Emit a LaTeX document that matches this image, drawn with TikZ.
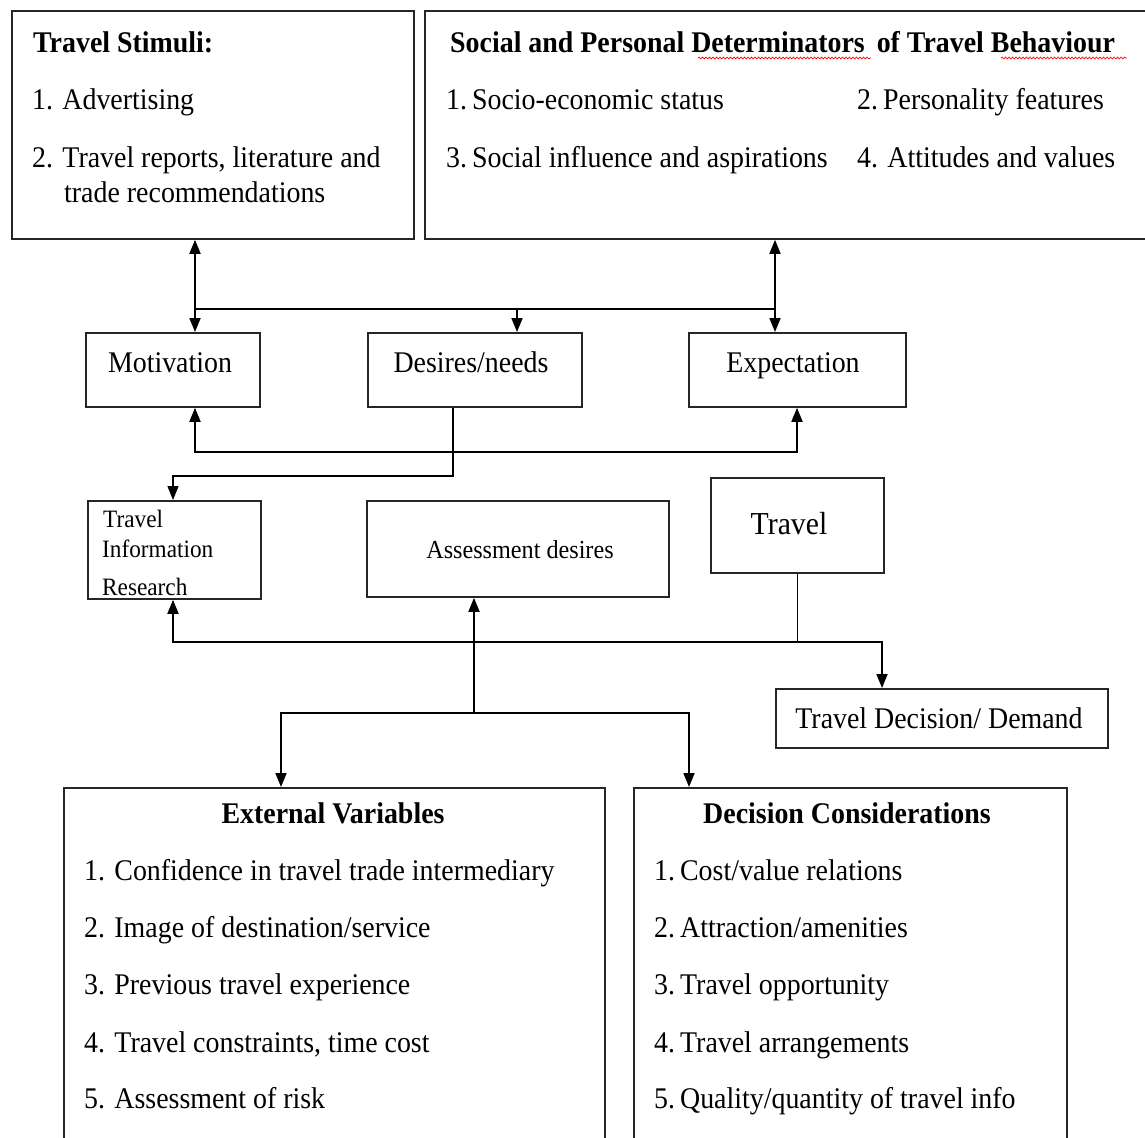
\documentclass[tikz,border=0pt]{standalone}
\usepackage{fontspec}
\setmainfont{Liberation Serif}[FakeStretch=0.93]
\usetikzlibrary{arrows.meta,decorations.pathmorphing}
\begin{document}
\begin{tikzpicture}[x=1pt,y=-1pt,
  boxnode/.style={draw=black!85, line width=1.8pt, rectangle, inner sep=0pt, anchor=north west},
  txt/.style={anchor=base west, inner sep=0pt, font=\fontsize{30}{36}\selectfont},
  ctxt/.style={anchor=base, inner sep=0pt, font=\fontsize{30}{36}\selectfont},
  btxt/.style={anchor=base, inner sep=0pt, font=\fontsize{30}{36}\selectfont\bfseries},
  stxt/.style={anchor=base west, inner sep=0pt, font=\fontsize{25}{30}\selectfont},
  conn/.style={line width=1.8pt, black},
  arr/.style={conn, -{Triangle[length=14pt,width=11pt]}},
  darr/.style={conn, {Triangle[length=14pt,width=11pt]}-{Triangle[length=14pt,width=11pt]}},
  wavy/.style={red, line width=0.7pt, decorate, decoration={snake, amplitude=0.9pt, segment length=3.5pt}}
]
\useasboundingbox (0,0) rectangle (1145,1137);
\clip (0,0) rectangle (1145,1137);

% boxes
\node[boxnode, minimum width=402pt, minimum height=228pt] (ts) at (11,10) {};
\node[boxnode, minimum width=740pt, minimum height=228pt] (sp) at (424,10) {};
\node[boxnode, minimum width=174pt, minimum height=74pt] (mot) at (85,332) {};
\node[boxnode, minimum width=214pt, minimum height=74pt] (des) at (367,332) {};
\node[boxnode, minimum width=217pt, minimum height=74pt] (exp) at (688,332) {};
\node[boxnode, minimum width=173pt, minimum height=98pt] (tir) at (87,500) {};
\node[boxnode, minimum width=302pt, minimum height=96pt] (ass) at (366,500) {};
\node[boxnode, minimum width=173pt, minimum height=95pt] (trv) at (710,477) {};
\node[boxnode, minimum width=332pt, minimum height=59pt] (tdd) at (775,688) {};
\node[boxnode, minimum width=541pt, minimum height=420pt] (ext) at (63,787) {};
\node[boxnode, minimum width=433pt, minimum height=420pt] (dec) at (633,787) {};

% texts: Travel Stimuli
\node[txt, font=\fontsize{30}{36}\selectfont\bfseries] (tsT) at (33,53) {Travel Stimuli:};
\node[txt] (ts1) at (32,110) {1. Advertising};
\node[txt] (ts2) at (32,167) {2. Travel reports, literature and};
\node[txt] (ts3) at (64,202) {trade recommendations};

% Social and personal
\node[txt, font=\fontsize{30}{36}\selectfont\bfseries] (spT) at (450,53) {Social and Personal Determinators \,of Travel Behaviour};
\node[txt] (sp1) at (446,110) {1.\,Socio-economic status};
\node[txt] (sp2) at (857,110) {2.\,Personality features};
\node[txt] (sp3) at (446,167) {3.\,Social influence and aspirations};
\node[txt] (sp4) at (857,167) {4. Attitudes and values};
\draw[wavy] (698,58) -- (871,58);
\draw[wavy] (1001,58) -- (1127,58);

% middle boxes
\node[ctxt] (motT) at (170,372) {Motivation};
\node[ctxt] (desT) at (471,372) {Desires/needs};
\node[ctxt] (expT) at (793,372) {Expectation};

\node[stxt] (tir1) at (103,527) {Travel};
\node[stxt] (tir2) at (102,557) {Information};
\node[stxt] (tir3) at (102,595) {Research};
\node[anchor=base, inner sep=0pt, font=\fontsize{26}{30}\selectfont] (assT) at (520,558) {Assessment desires};
\node[anchor=base, inner sep=0pt, font=\fontsize{32}{36}\selectfont] (trvT) at (789,534) {Travel};
\node[ctxt] (tddT) at (939,728) {Travel Decision/ Demand};

% External variables
\node[btxt] (extT) at (333,823) {External Variables};
\node[txt] (e1) at (84,880) {1. Confidence in travel trade intermediary};
\node[txt] (e2) at (84,937) {2. Image of destination/service};
\node[txt] (e3) at (84,994) {3. Previous travel experience};
\node[txt] (e4) at (84,1052) {4. Travel constraints, time cost};
\node[txt] (e5) at (84,1108) {5. Assessment of risk};

% Decision considerations
\node[btxt] (decT) at (847,823) {Decision Considerations};
\node[txt] (d1) at (654,880) {1.\,Cost/value relations};
\node[txt] (d2) at (654,937) {2.\,Attraction/amenities};
\node[txt] (d3) at (654,994) {3.\,Travel opportunity};
\node[txt] (d4) at (654,1052) {4.\,Travel arrangements};
\node[txt] (d5) at (654,1108) {5.\,Quality/quantity of travel info};

% junction coordinates
\coordinate (j1) at (195,309);
\coordinate (j2) at (775,309);
\coordinate (j3) at (517,309);
\coordinate (k1) at (195,452);
\coordinate (k2) at (797,452);
\coordinate (q1) at (453,476);
\coordinate (q2) at (173,476);
\coordinate (t0) at (173,642);
\coordinate (t1) at (797,642);
\coordinate (t2) at (882,642);
\coordinate (a0) at (474,713);
\coordinate (a1) at (281,713);
\coordinate (a2) at (689,713);

% connectors
\draw[darr] (j1 |- ts.south) -- (j1 |- mot.north);
\draw[darr] (j2 |- sp.south) -- (j2 |- exp.north);
\draw[conn] (j1) -- (j2);
\draw[arr] (j3) -- (j3 |- des.north);

\draw[darr] (k1 |- mot.south) -- (k1) -- (k2) -- (k2 |- exp.south);

\draw[arr, line width=1.4pt] (q1 |- des.south) -- (q1) -- (q2) -- (q2 |- tir.north);

\draw[conn, line width=1pt] (t1 |- trv.south) -- (t1);
\draw[darr] (t0 |- tir.south) -- (t0) -- (t2) -- (t2 |- tdd.north);

\draw[arr] (a0) -- (a0 |- ass.south);
\draw[darr] (a1 |- ext.north) -- (a1) -- (a2) -- (a2 |- dec.north);
\end{tikzpicture}
\end{document}
